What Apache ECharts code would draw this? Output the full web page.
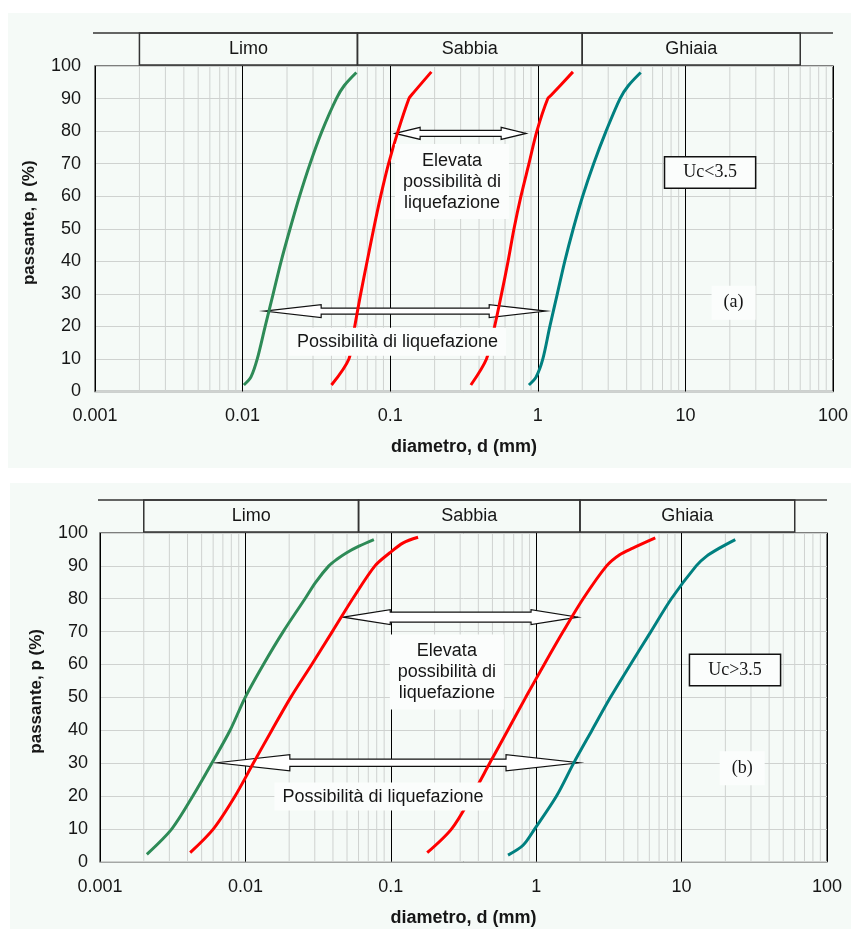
<!DOCTYPE html>
<html>
<head>
<meta charset="utf-8">
<script src="https://cdn.jsdelivr.net/npm/echarts@6/dist/echarts.min.js"></script>
<style>
  html, body { margin: 0; padding: 0; background: #fff; }
  #chart { width: 851px; height: 929px; }
</style>
</head>
<body>
<div id="chart"></div>
<script>
// axis ticks
const xTickLabels = ['0.001', '0.01', '0.1', '1', '10', '100']
const decades = [0.001, 0.01, 0.1, 1, 10]

// soil classes shown above each plot (mm)
const bandNames = ['Limo', 'Sabbia', 'Ghiaia']
const bandLimits = [[0.002, 0.06], [0.06, 2], [2, 60]]

// (a) Uc < 3.5 : [diametro mm, passante %]
const aGreen = [[0.0102, 2], [0.0114, 4.5], [0.01257, 10], [0.01422, 20], [0.01611, 30], [0.01824, 40], [0.02097, 50], [0.02431, 60], [0.02864, 70], [0.03451, 80], [0.04318, 90], [0.04887, 94], [0.059, 98]]
const aRed1 = [[0.04, 2], [0.0525, 10], [0.0575, 20], [0.0631, 30], [0.0698, 40], [0.0773, 50], [0.0862, 60], [0.0975, 70], [0.113, 80], [0.134, 90], [0.139, 91], [0.19, 98.2]]
const aRed2 = [[0.352, 2], [0.449, 10], [0.51, 20], [0.568, 30], [0.629, 40], [0.69, 50], [0.769, 60], [0.871, 70], [0.986, 80], [1.169, 90], [1.23, 91], [1.73, 98.2]]
const aTeal = [[0.871, 2], [0.975, 4.5], [1.082, 10], [1.207, 20], [1.356, 30], [1.523, 40], [1.739, 50], [2.014, 60], [2.39, 70], [2.902, 80], [3.608, 90], [4.115, 94], [4.98, 98]]

// (b) Uc > 3.5
const bGreen = [[0.0021, 2.25], [0.00312, 10], [0.00435, 20], [0.00588, 30], [0.00785, 40], [0.00997, 50], [0.0133, 60], [0.0182, 70], [0.0257, 80], [0.0304, 85], [0.0375, 90], [0.0426, 92], [0.0497, 94], [0.0604, 96], [0.0765, 98]]
const bRed1 = [[0.00417, 2.75], [0.00603, 10], [0.0085, 20], [0.01135, 30], [0.0152, 40], [0.0205, 50], [0.0286, 60], [0.0396, 70], [0.0547, 80], [0.0778, 90], [0.0986, 94], [0.1217, 97], [0.154, 98.7]]
const bRed2 = [[0.178, 2.75], [0.262, 10], [0.3606, 20], [0.4793, 30], [0.6375, 40], [0.8472, 50], [1.135, 60], [1.532, 70], [2.102, 80], [3.049, 90], [3.75, 93.4], [4.62, 95.4], [6.59, 98.5]]
const bTeal = [[0.64, 2], [0.812, 5], [0.977, 10], [1.38, 20], [1.81, 30], [2.42, 40], [3.24, 50], [4.45, 60], [6.15, 70], [8.5, 80], [12.6, 90], [14.8, 92.9], [18.2, 95.4], [23.4, 98]]

// double arrows: [left tip mm, right tip mm, passante %]
const aArrows = [[0.108, 0.834, 79.3], [0.014, 1.14, 24.7]]
const bArrows = [[0.0471, 1.94, 74.4], [0.00636, 1.97, 30.1]]

// notes: text and anchor [mm, %]
const aNoteText = ['Elevata\npossibilità di\nliquefazione', 'Possibilità di liquefazione', 'Uc<3.5', '(a)']
const aNotePos = [[0.262, 64.5], [0.112, 15.3], [14.7, 67.3], [21.2, 27.3]]
const bNoteText = ['Elevata\npossibilità di\nliquefazione', 'Possibilità di liquefazione', 'Uc>3.5', '(b)']
const bNotePos = [[0.243, 57.7], [0.0883, 19.8], [23.3, 58.3], [26.1, 28.4]]

// ---------- styles ----------
const SANS = '"Liberation Sans", Arial, sans-serif'
const SERIF = '"Liberation Serif", "Times New Roman", serif'
const BG = '#f5faf7'
const GREEN = '#2e8b57'
const RED = '#ff0000'
const TEAL = '#008080'
const INK = '#161616'
// [head length, head half width, shaft half width] in px
const aArrowShape = [[25, 6, 3], [57, 6.5, 3]]
const bArrowShape = [[47, 7.5, 5], [73, 8, 3.7]]
const noteStyles = [
  { font: '18px ' + SANS, lineHeight: 21, backgroundColor: '#fbfdfc', padding: [6, 8] },
  { font: '18px ' + SANS, backgroundColor: '#fbfdfc', padding: [5, 8] },
  { font: '18px ' + SERIF, backgroundColor: '#fbfdfc', padding: [6, 18], borderColor: '#111', borderWidth: 1.5 },
  { font: '18px ' + SERIF, backgroundColor: '#fbfdfc', padding: [8, 12] }
]

const minorTicks = []
decades.forEach(d => { for (let m = 2; m <= 9; m++) minorTicks.push(+(m * d).toPrecision(3)) })

function buildPanel(idx, curves, arrows, arrowShape, noteText, notePos) {
  const base = { xAxisIndex: idx, yAxisIndex: idx }
  const list = []
  // minor log grid lines
  list.push(Object.assign({
    type: 'custom', silent: true, z: 1,
    data: minorTicks.map(v => [v, 50]),
    renderItem(params, api) {
      const p0 = api.coord([api.value(0), 0])
      const p1 = api.coord([api.value(0), 100])
      return { type: 'line', shape: { x1: p0[0], y1: p0[1], x2: p1[0], y2: p1[1] }, style: { stroke: '#cfd2d0', lineWidth: 1 } }
    }
  }, base))
  // class bands above the plot
  list.push(Object.assign({
    type: 'custom', silent: true, z: 5, clip: false,
    data: bandLimits.map(b => [b[0], b[1]]),
    renderItem(params, api) {
      const cs = params.coordSys
      const x1 = api.coord([api.value(0), 100])[0]
      const x2 = api.coord([api.value(1), 100])[0]
      const h = 32
      const top = cs.y - h - 1
      const children = [
        { type: 'rect', shape: { x: x1, y: top, width: x2 - x1, height: h }, style: { fill: null, stroke: '#333', lineWidth: 1.5 } },
        { type: 'text', x: (x1 + x2) / 2, y: top + h / 2, style: { text: bandNames[params.dataIndex], font: '18px ' + SANS, fill: INK, align: 'center', verticalAlign: 'middle' } }
      ]
      if (params.dataIndex === 0) {
        children.push({ type: 'line', shape: { x1: cs.x - 2, y1: top, x2: cs.x + cs.width, y2: top }, style: { stroke: '#333', lineWidth: 1.5 } })
      }
      return { type: 'group', children }
    }
  }, base))
  // hollow double arrows
  list.push(Object.assign({
    type: 'custom', silent: true, z: 2,
    data: arrows.map(a => [a[0], a[2], a[1]]),
    renderItem(params, api) {
      const l = api.coord([api.value(0), api.value(1)])
      const r = api.coord([api.value(2), api.value(1)])
      const s = arrowShape[params.dataIndex]
      const hl = s[0], hw = s[1], sw = s[2], y = l[1]
      const pts = [
        [l[0], y], [l[0] + hl, y - hw], [l[0] + hl, y - sw], [r[0] - hl, y - sw], [r[0] - hl, y - hw],
        [r[0], y], [r[0] - hl, y + hw], [r[0] - hl, y + sw], [l[0] + hl, y + sw], [l[0] + hl, y + hw]
      ]
      return { type: 'polygon', shape: { points: pts }, style: { fill: '#ffffff', stroke: '#111', lineWidth: 1.2 } }
    }
  }, base))
  // curves
  curves.forEach(c => {
    list.push(Object.assign({
      type: 'line', data: c.data, showSymbol: false, smooth: 0.3, z: 3, silent: true,
      lineStyle: { color: c.color, width: 3 }, itemStyle: { color: c.color }
    }, base))
  })
  // text notes
  list.push(Object.assign({
    type: 'custom', silent: true, z: 4, clip: false,
    data: notePos,
    renderItem(params, api) {
      const p = api.coord([api.value(0), api.value(1)])
      const st = Object.assign({ text: noteText[params.dataIndex], fill: INK, align: 'center', verticalAlign: 'middle' }, noteStyles[params.dataIndex])
      return { type: 'text', x: p[0], y: p[1], style: st }
    }
  }, base))
  return list
}

function xAxisOf(idx) {
  return {
    type: 'log', logBase: 10, min: 0.001, max: 100, gridIndex: idx,
    name: 'diametro, d (mm)', nameLocation: 'middle', nameGap: 47,
    nameTextStyle: { fontFamily: SANS, fontSize: 18, fontWeight: 'bold', color: INK },
    axisLine: { show: false }, axisTick: { show: false },
    axisLabel: { margin: 16, fontFamily: SANS, fontSize: 18, color: INK, formatter: v => xTickLabels[Math.round(Math.log10(v)) + 3] },
    splitLine: { show: true, lineStyle: { color: '#000', width: 1 } }
  }
}
function yAxisOf(idx, gap, margin) {
  return {
    type: 'value', min: 0, max: 100, interval: 10, gridIndex: idx,
    name: 'passante, p (%)', nameLocation: 'middle', nameGap: gap,
    nameTextStyle: { fontFamily: SANS, fontSize: 17, fontWeight: 'bold', color: INK, padding: [0, 0, 0, 12] },
    axisLine: { show: false }, axisTick: { show: false },
    axisLabel: { margin: margin, fontFamily: SANS, fontSize: 18, color: INK },
    splitLine: { show: true, lineStyle: { color: '#cfd2d0', width: 1 } }
  }
}

const chart = echarts.init(document.getElementById('chart'), null, { renderer: 'canvas' })
chart.setOption({
  backgroundColor: '#fff',
  animation: false,
  graphic: [
    { type: 'rect', z: -10, shape: { x: 8, y: 13, width: 843, height: 455 }, style: { fill: BG } },
    { type: 'rect', z: -10, shape: { x: 10, y: 483, width: 841, height: 446 }, style: { fill: BG } }
  ],
  grid: [
    { left: 95, top: 66, width: 740, height: 325.5, show: true, borderColor: '#555', borderWidth: 1.5, backgroundColor: 'transparent' },
    { left: 100, top: 533, width: 727, height: 328.7, show: true, borderColor: '#555', borderWidth: 1.5, backgroundColor: 'transparent' }
  ],
  xAxis: [xAxisOf(0), xAxisOf(1)],
  yAxis: [yAxisOf(0, 57, 14), yAxisOf(1, 55, 12)],
  series: [].concat(
    buildPanel(0, [
      { data: aGreen, color: GREEN }, { data: aRed1, color: RED }, { data: aRed2, color: RED }, { data: aTeal, color: TEAL }
    ], aArrows, aArrowShape, aNoteText, aNotePos),
    buildPanel(1, [
      { data: bGreen, color: GREEN }, { data: bRed1, color: RED }, { data: bRed2, color: RED }, { data: bTeal, color: TEAL }
    ], bArrows, bArrowShape, bNoteText, bNotePos)
  )
})
</script>
</body>
</html>
